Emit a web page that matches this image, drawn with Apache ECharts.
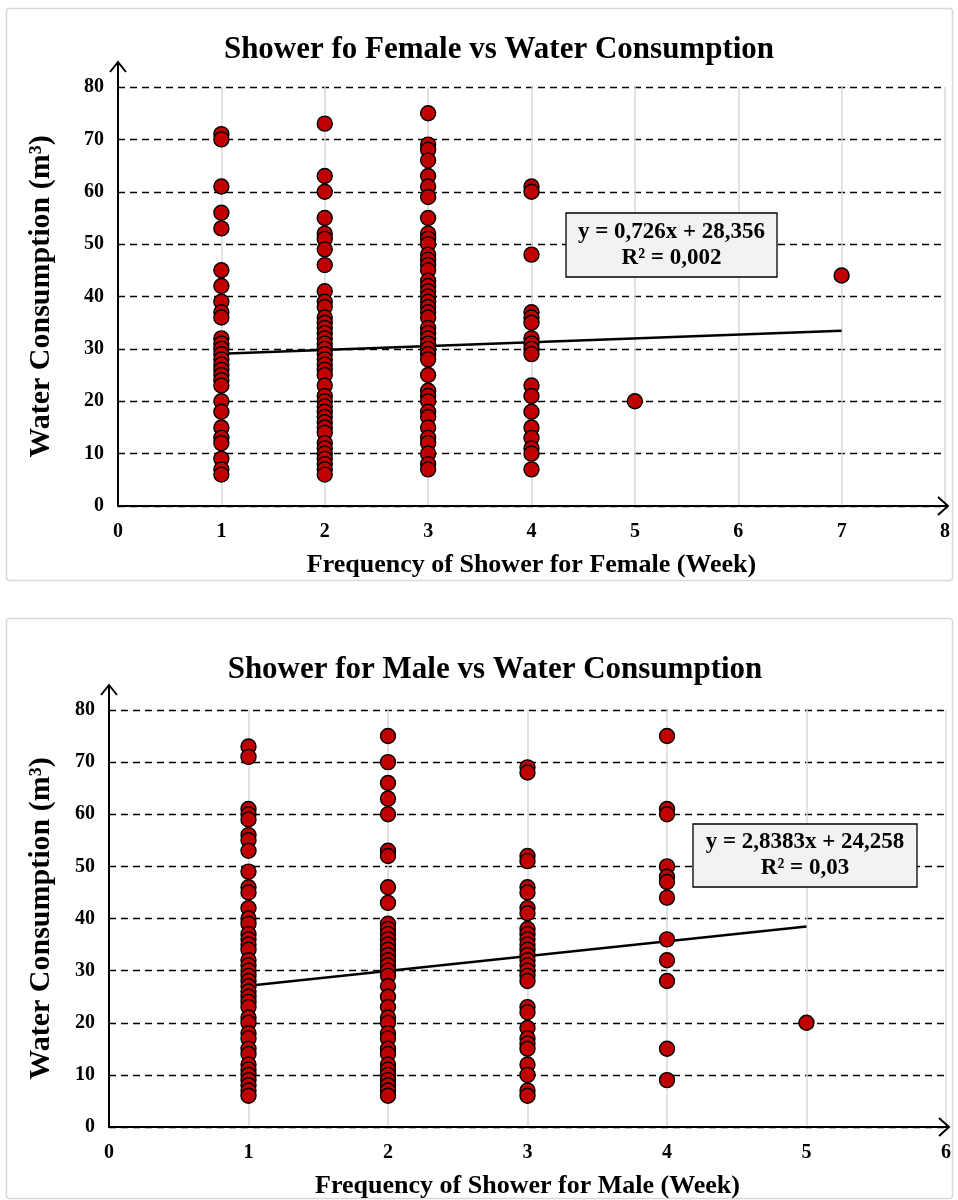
<!DOCTYPE html>
<html>
<head>
<meta charset="utf-8">
<script src="https://cdn.jsdelivr.net/npm/echarts@6/dist/echarts.min.js"></script>
<style>
html,body{margin:0;padding:0;background:#fff;}
#c{width:958px;height:1200px;}
</style>
</head>
<body>
<div id="c"></div>
<script>
// ---------- DATA ----------
const titleFemale = 'Shower fo Female vs Water Consumption';
const titleMale = 'Shower for Male vs Water Consumption';
const xNameFemale = 'Frequency of Shower for Female (Week)';
const xNameMale = 'Frequency of Shower for Male (Week)';
const yName = 'Water Consumption (m³)';

// Female: water consumption values per shower frequency
const female1 = [71, 70, 61, 56, 53, 45, 42, 39, 37, 36, 32, 31, 30, 29, 28, 27, 26, 25, 24, 23, 20, 18, 15, 13, 12, 9, 7, 6];
const female2 = [73, 63, 60, 55, 52, 51, 49, 46, 41, 39, 38, 36, 35, 34, 33, 32, 31, 30, 29, 28, 27, 26, 25, 23, 21, 20, 19, 18, 17, 16, 15, 14, 12, 11, 10, 9, 8, 7, 6];
const female3 = [75, 69, 68, 66, 63, 61, 59, 55, 52, 51, 50, 48, 47, 46, 45, 43, 42, 41, 40, 39, 38, 37, 36, 34, 33, 32, 31, 30, 29, 28, 25, 22, 21, 20, 18, 17, 15, 13, 12, 10, 8, 7];
const female4 = [61, 60, 48, 37, 36, 35, 32, 31, 30, 29, 23, 21, 18, 15, 13, 11, 10, 7];
const female5 = [20];
const female7 = [44];
const femaleTrendSlope = 0.726, femaleTrendIntercept = 28.356;
const femaleTrendX = [1, 7];
const femaleEq = ['y = 0,726x + 28,356', 'R² = 0,002'];

// Male
const male1 = [73, 71, 61, 60, 59, 56, 55, 53, 49, 46, 45, 42, 40, 39, 37, 36, 35, 34, 32, 31, 30, 29, 28, 27, 26, 25, 24, 23, 21, 20, 18, 17, 15, 14, 12, 11, 10, 9, 8, 7, 6];
const male2 = [75, 70, 66, 63, 60, 53, 52, 46, 43, 39, 38, 37, 36, 35, 34, 33, 32, 31, 30, 29, 27, 25, 23, 21, 20, 18, 17, 15, 14, 12, 11, 10, 9, 8, 7, 6];
const male3 = [69, 68, 52, 51, 46, 45, 42, 41, 38, 37, 36, 35, 34, 33, 32, 31, 30, 29, 28, 23, 22, 19, 17, 16, 15, 12, 10, 7, 6];
const male4 = [75, 61, 60, 50, 48, 47, 44, 36, 32, 28, 15, 9];
const male5 = [20];
const maleTrendSlope = 2.8383, maleTrendIntercept = 24.258;
const maleTrendX = [1, 5];
const maleEq = ['y = 2,8383x + 24,258', 'R² = 0,03'];

const xTicksFemale = [0, 8, 1];
const xTicksMale = [0, 6, 1];
const yTicks = [0, 80, 10];

// ---------- BUILD ----------
function pairs(groups) {
  const out = [];
  groups.forEach(([x, arr]) => arr.forEach(v => out.push([x, v])));
  return out;
}
const femalePts = pairs([[1, female1], [2, female2], [3, female3], [4, female4], [5, female5], [7, female7]]);
const malePts = pairs([[1, male1], [2, male2], [3, male3], [4, male4], [5, male5]]);
const femaleTrend = femaleTrendX.map(x => [x, femaleTrendSlope * x + femaleTrendIntercept]);
const maleTrend = maleTrendX.map(x => [x, maleTrendSlope * x + maleTrendIntercept]);

const FONT = '"Liberation Serif", "Times New Roman", serif';
const grids = [
  {left: 118, top: 87, width: 827, height: 419},
  {left: 109, top: 710, width: 837, height: 421}
];

function xAxisCfg(gi, ticks, name) {
  return {
    type: 'value', gridIndex: gi, min: ticks[0], max: ticks[1], interval: ticks[2],
    name: name, nameLocation: 'middle', nameGap: 46,
    nameTextStyle: {fontFamily: FONT, fontWeight: 'bold', fontSize: 26, color: '#000'},
    axisLine: {show: true, onZero: false, lineStyle: {color: '#000', width: 2}},
    axisTick: {show: false},
    axisLabel: {fontFamily: FONT, fontWeight: 'bold', fontSize: 20, color: '#000', margin: 16},
    splitLine: {show: true, lineStyle: {color: '#d9d9d9', width: 1.5}}
  };
}
function yAxisCfg(gi, gap) {
  return {
    type: 'value', gridIndex: gi, min: yTicks[0], max: yTicks[1], interval: yTicks[2],
    name: yName, nameLocation: 'middle', nameGap: gap,
    nameTextStyle: {fontFamily: FONT, fontWeight: 'bold', fontSize: 30, color: '#000'},
    axisLine: {show: true, onZero: false, lineStyle: {color: '#000', width: 2}},
    axisTick: {show: false},
    axisLabel: {fontFamily: FONT, fontWeight: 'bold', fontSize: 20, color: '#000', margin: 14},
    splitLine: {show: true, lineStyle: {color: '#000', width: 1.3, type: [7, 5]}}
  };
}
const markerStyle = {color: '#c00000', borderColor: '#000', borderWidth: 1.4, opacity: 1};

const chart = echarts.init(document.getElementById('c'), null, {renderer: 'canvas'});
chart.setOption({
  animation: false,
  backgroundColor: '#fff',
  title: [
    {text: titleFemale, left: 494, textAlign: 'center', top: 29, textStyle: {fontFamily: FONT, fontWeight: 'bold', fontSize: 31, color: '#000'}},
    {text: titleMale, left: 490, textAlign: 'center', top: 649, textStyle: {fontFamily: FONT, fontWeight: 'bold', fontSize: 31, color: '#000'}}
  ],
  grid: grids,
  xAxis: [xAxisCfg(0, xTicksFemale, xNameFemale), xAxisCfg(1, xTicksMale, xNameMale)],
  yAxis: [yAxisCfg(0, 62), yAxisCfg(1, 53)],
  series: [
    {type: 'line', xAxisIndex: 0, yAxisIndex: 0, data: femaleTrend, symbol: 'none', lineStyle: {color: '#000', width: 2.5}, z: 3},
    {type: 'scatter', xAxisIndex: 0, yAxisIndex: 0, data: femalePts, symbolSize: 15, itemStyle: markerStyle, z: 4},
    {type: 'line', xAxisIndex: 1, yAxisIndex: 1, data: maleTrend, symbol: 'none', lineStyle: {color: '#000', width: 2.5}, z: 3},
    {type: 'scatter', xAxisIndex: 1, yAxisIndex: 1, data: malePts, symbolSize: 15, itemStyle: markerStyle, z: 4}
  ]
});

// Frames, axis arrows and equation boxes
function arrows(gi, xmax) {
  const o = chart.convertToPixel({gridIndex: gi}, [0, 0]);
  const yt = chart.convertToPixel({gridIndex: gi}, [0, 80]);
  const xr = chart.convertToPixel({gridIndex: gi}, [xmax, 0]);
  const topY = yt[1] - 25, rightX = xr[0] + 3;
  const st = {stroke: '#000', lineWidth: 2, fill: null};
  return [
    {type: 'polyline', shape: {points: [[o[0], o[1]], [o[0], topY]]}, style: st, z: 50},
    {type: 'polyline', shape: {points: [[o[0] - 8, topY + 10], [o[0], topY], [o[0] + 8, topY + 10]]}, style: st, z: 50},
    {type: 'polyline', shape: {points: [[o[0], o[1]], [rightX, o[1]]]}, style: st, z: 50},
    {type: 'polyline', shape: {points: [[rightX - 10, o[1] - 9], [rightX, o[1]], [rightX - 10, o[1] + 9]]}, style: st, z: 50}
  ];
}
function eqBox(x, y, w, h, lines) {
  return [
    {type: 'rect', shape: {x: x, y: y, width: w, height: h}, style: {fill: '#f2f2f2', stroke: '#000', lineWidth: 1.3}, z: 60},
    {type: 'text', x: x + w / 2, y: y + h / 2, style: {text: lines.join('\n'), fontFamily: FONT, fontWeight: 'bold', fontSize: 23, lineHeight: 26, align: 'center', verticalAlign: 'middle', fill: '#000'}, z: 61}
  ];
}
const g = [
  {type: 'rect', shape: {x: 6.5, y: 8.5, width: 946, height: 572, r: 3}, style: {fill: null, stroke: '#d9d9d9', lineWidth: 1.5}, z: -1},
  {type: 'rect', shape: {x: 6.5, y: 618.5, width: 946, height: 580, r: 3}, style: {fill: null, stroke: '#d9d9d9', lineWidth: 1.5}, z: -1}
].concat(arrows(0, 8), arrows(1, 6), eqBox(566, 213, 211, 64, femaleEq), eqBox(693, 824, 224, 63, maleEq));
chart.setOption({graphic: g});
</script>
</body>
</html>
